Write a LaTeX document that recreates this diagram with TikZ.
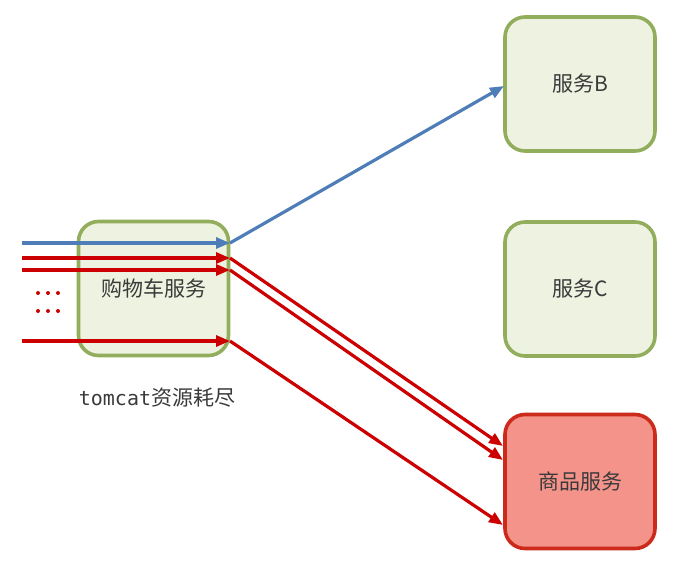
\documentclass[tikz,border=0pt]{standalone}
\usepackage{fontspec}
\setmainfont{Noto Sans CJK SC}
\newfontfamily\monofont{DejaVu Sans Mono}
\usetikzlibrary{arrows.meta}
\definecolor{gborder}{HTML}{92AD5C}
\definecolor{gfill}{HTML}{EEF2E0}
\definecolor{rborder}{HTML}{CC2B1C}
\definecolor{rfill}{HTML}{F4938A}
\definecolor{bline}{HTML}{4F7DB8}
\definecolor{rline}{HTML}{CC0000}
\definecolor{txt}{HTML}{3A3A3A}
\begin{document}
\begin{tikzpicture}[x=1pt,y=-1pt,
  svc/.style={draw=gborder,fill=gfill,line width=3.6pt,rounded corners=20pt,minimum width=150pt,minimum height=134pt,inner sep=0pt,font=\fontsize{21}{24}\selectfont,text=txt},
  bad/.style={svc,draw=rborder,fill=rfill},
  barr/.style={draw=bline,line width=3.2pt,-{Triangle[length=14pt,width=11pt]}},
  rarr/.style={draw=rline,line width=3.2pt,-{Triangle[length=14pt,width=11pt]}},
  rdot/.style={fill=rline,circle,inner sep=0pt,minimum size=4pt}]
\useasboundingbox (0,0) rectangle (677,567);
\node[svc] (cart) at (153.5,288.5) {购物车服务};
\node[svc] (b) at (580,84) {服务B};
\node[svc] (c) at (580,289) {服务C};
\node[bad] (g) at (580,481.5) {商品服务};
\node[font=\fontsize{21}{24}\selectfont,text=txt] (lbl) at (157,398) {{\monofont\fontsize{20}{24}\selectfont tomcat}资源耗尽};
% entry points
\coordinate (s1) at (22,243);
\coordinate (s2) at (22,258);
\coordinate (s3) at (22,270);
\coordinate (s4) at (22,341);
\coordinate (e1) at (230,243);
\coordinate (e2) at (230,258);
\coordinate (e3) at (230,270);
\coordinate (e4) at (230,341);
\coordinate (gb) at (504,86);
\coordinate (g1) at (503,446);
\coordinate (g2) at (503,460);
\coordinate (g3) at (503,525);
\draw[barr] (s1) -- (e1);
\draw[rarr] (s2) -- (e2);
\draw[rarr] (s3) -- (e3);
\draw[rarr] (s4) -- (e4);
\draw[barr] (e1) -- (gb);
\draw[rarr] (e2) -- (g1);
\draw[rarr] (e3) -- (g2);
\draw[rarr] (e4) -- (g3);
\foreach \x in {38,48,58}{
  \node[rdot] at (\x,293) {};
  \node[rdot] at (\x,311) {};
}
\end{tikzpicture}
\end{document}
